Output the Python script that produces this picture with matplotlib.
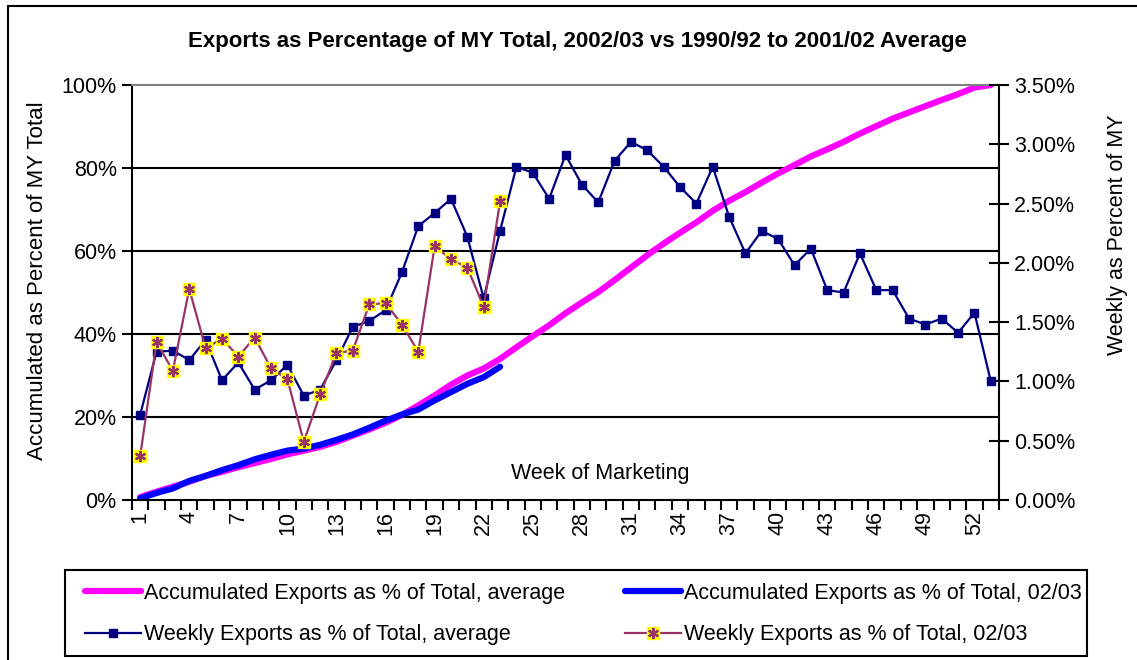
import numpy as np
import matplotlib
matplotlib.use("Agg")
import matplotlib.pyplot as plt
from matplotlib.patches import Rectangle
from matplotlib.ticker import FuncFormatter

plt.rcParams['font.family'] = ['Liberation Sans', 'DejaVu Sans']

weeks = list(range(1, 54))
tick_weeks = list(range(1, 54, 3))

# accumulated exports, % of MY total (left axis)
accum_avg = [0.7, 2.0, 3.2, 4.4, 5.8, 6.8, 7.9, 8.9, 9.9, 11.0,
             11.9, 12.8, 14.0, 15.5, 17.0, 18.6, 20.5, 22.8, 25.2, 27.8,
             30.0, 31.7, 34.0, 36.8, 39.5, 42.1, 45.0, 47.6, 50.1, 53.0,
             56.0, 59.0, 61.8, 64.4, 66.9, 69.7, 72.1, 74.2, 76.5, 78.7,
             80.7, 82.8, 84.5, 86.3, 88.3, 90.1, 91.9, 93.4, 94.9, 96.4,
             97.8, 99.4, 100.0]
accum_0203 = [0.4, 1.7, 2.8, 4.6, 5.8, 7.2, 8.4, 9.8, 10.9, 11.9,
              12.4, 13.3, 14.5, 15.8, 17.4, 19.1, 20.6, 21.8, 24.0, 26.0,
              28.0, 29.6, 32.1]

# weekly exports, % of MY total (right axis)
weekly_avg = [0.72, 1.25, 1.26, 1.18, 1.35, 1.01, 1.16, 0.93, 1.01, 1.14,
              0.88, 0.93, 1.18, 1.46, 1.51, 1.60, 1.92, 2.31, 2.42, 2.54,
              2.22, 1.70, 2.27, 2.81, 2.76, 2.54, 2.91, 2.66, 2.51, 2.86,
              3.02, 2.95, 2.81, 2.64, 2.50, 2.81, 2.39, 2.08, 2.27, 2.20,
              1.98, 2.12, 1.77, 1.75, 2.08, 1.77, 1.77, 1.53, 1.48, 1.53,
              1.41, 1.58, 1.00]
weekly_0203 = [0.37, 1.33, 1.09, 1.78, 1.28, 1.36, 1.21, 1.37, 1.11, 1.02,
               0.49, 0.89, 1.24, 1.26, 1.65, 1.66, 1.48, 1.25, 2.14, 2.03,
               1.96, 1.63, 2.52]

fig = plt.figure(figsize=(11.37, 6.6), dpi=100)
ax = fig.add_axes([132/1137, 1-500/660, 867/1137, 415/660])
ax2 = ax.twinx()

l1, = ax.plot(weeks, accum_avg, color='#FF00FF', lw=4.5, solid_capstyle='round')
l2, = ax.plot(weeks[:len(accum_0203)], accum_0203, color='#0000FF', lw=4.5, solid_capstyle='round')

l3, = ax2.plot(weeks, weekly_avg, color='#000080', lw=1.6, marker='s', ms=6)
l4, = ax2.plot(weeks[:len(weekly_0203)], weekly_0203, color='#993366', lw=1.6,
               marker='s', ms=9, mfc='#FFFF00', mec='#FFFF00')
l5, = ax2.plot(weeks[:len(weekly_0203)], weekly_0203, ls='none', color='#993366',
               marker=(6, 2, 0), ms=8, mew=1.6)

ax.set_xlim(0.5, 53.5)
ax.set_ylim(0, 100)
ax2.set_ylim(0, 3.5)

ax.set_yticks(range(0, 101, 20))
ax.yaxis.set_major_formatter(FuncFormatter(lambda v, p: f"{v:.0f}%"))
ax2.set_yticks(np.arange(0, 3.51, 0.5))
ax2.yaxis.set_major_formatter(FuncFormatter(lambda v, p: f"{v:.2f}%"))

ax.set_xticks(tick_weeks)
ax.set_xticklabels([str(w) for w in tick_weeks], rotation=90)
ax.set_xticks(np.arange(0.5, 54, 1), minor=True)
ax.tick_params(axis='x', which='major', length=0, labelsize=15.5, pad=8)
ax.tick_params(axis='x', which='minor', length=7, width=1.5, direction='out')
ax.tick_params(axis='y', length=7, width=1.5, labelsize=15.5, pad=4)
ax2.tick_params(axis='y', length=14, width=1.5, direction='inout', labelsize=15.5, pad=4)

for y in [20, 40, 60, 80]:
    ax.axhline(y, color='black', lw=1.5, zorder=0)

for sp in ['left', 'bottom']:
    ax.spines[sp].set_linewidth(1.5)
ax.spines['top'].set_color('#808080')
ax.spines['top'].set_linewidth(1.5)
ax2.spines['top'].set_visible(False)
ax2.spines['left'].set_visible(False)
ax2.spines['bottom'].set_visible(False)
ax2.spines['right'].set_linewidth(1.5)
ax.spines['right'].set_visible(False)

fig.text(577/1137, 1-42/660,
         "Exports as Percentage of MY Total, 2002/03 vs 1990/92 to 2001/02 Average",
         ha='center', va='center', fontsize=16, fontweight='bold')
fig.text(38/1137, 1-281/660, "Accumulated as Percent of MY Total",
         rotation=90, ha='center', va='center', fontsize=16)
fig.text(1118/1137, 1-355/660, "Weekly as Percent of MY",
         rotation=90, ha='center', va='bottom', fontsize=15.5)
fig.text(600/1137, 1-473/660, "Week of Marketing", ha='center', va='center', fontsize=15.5)

fig.legend([l1, l3, l2, (l4, l5)],
           ["Accumulated Exports as % of Total, average",
            "Weekly Exports as % of Total, average",
            "Accumulated Exports as % of Total, 02/03",
            "Weekly Exports as % of Total, 02/03"],
           loc='upper left', bbox_to_anchor=(76/1137, 1-574/660),
           ncol=2, fontsize=15.5, frameon=False, handlelength=2.6, handletextpad=0.15,
           borderpad=0.4, labelspacing=0.95, columnspacing=2.8, borderaxespad=0)

# legend box
fig.patches.append(Rectangle((65/1137, 1-656/660), 1022/1137, 86/660, transform=fig.transFigure,
                             fill=False, edgecolor='black', lw=1.5))
# outer chart border
fig.patches.append(Rectangle((8/1137, -0.05), 1.1, 1-6/660+0.05, transform=fig.transFigure,
                             fill=False, edgecolor='black', lw=1.5))

fig.savefig("out.png", dpi=100)
